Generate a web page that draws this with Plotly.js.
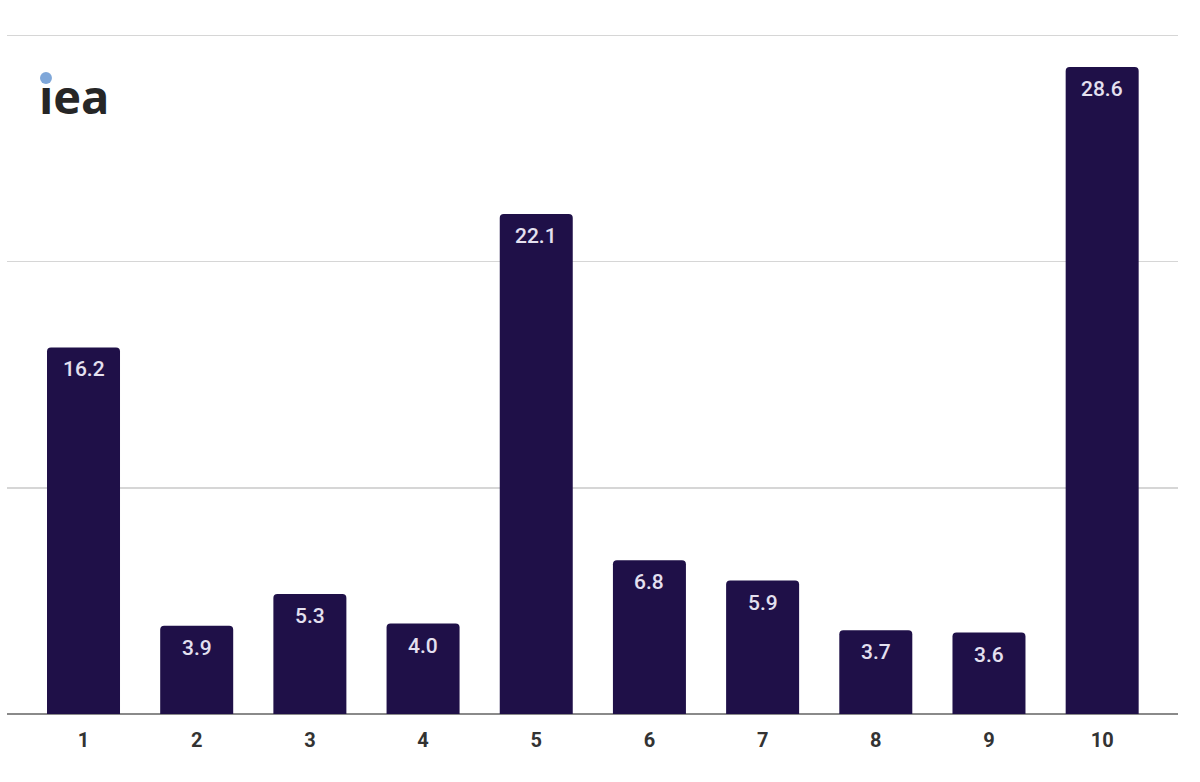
<!DOCTYPE html>
<html>
<head>
<meta charset="utf-8">
<script src="https://cdn.plot.ly/plotly-3.0.1.min.js"></script>
<style>html,body{margin:0;padding:0;background:#fff;}#chart{width:1200px;height:782px;}</style>
</head>
<body>
<div id="chart"></div>
<script>
const categories = [1, 2, 3, 4, 5, 6, 7, 8, 9, 10];
const values = [16.2, 3.9, 5.3, 4.0, 22.1, 6.8, 5.9, 3.7, 3.6, 28.6];
const tickLabels = ["1", "2", "3", "4", "5", "6", "7", "8", "9", "10"];

const trace = {
  type: "bar",
  x: categories,
  y: values,
  marker: {color: "#1f1048", cornerradius: 4, line: {width: 0}},
  hoverinfo: "none",
  width: 0.645
};

const valueLabels = categories.map((c, i) => ({
  xref: "x", yref: "y", x: c, y: values[i],
  xanchor: "center", yanchor: "middle", yshift: -22,
  text: values[i].toFixed(1), showarrow: false,
  font: {family: "Roboto, Arial, sans-serif", size: 21, color: "#e4e0f0", weight: 500}
}));

const layout = {
  width: 1200, height: 782,
  margin: {l: 7, r: 22, t: 33, b: 68},
  paper_bgcolor: "#ffffff", plot_bgcolor: "#ffffff",
  showlegend: false,
  xaxis: {
    range: [0.324, 10.67],
    tickvals: categories, ticktext: tickLabels,
    showgrid: false, zeroline: false,
    showline: false, ticks: "",
    ticklabelstandoff: 12,
    tickfont: {family: "Roboto, Arial, sans-serif", size: 20, color: "#333333", weight: "bold"},
    fixedrange: true
  },
  yaxis: {
    range: [0, 30.1], dtick: 10,
    showticklabels: false,
    showgrid: true, gridcolor: "#d6d6d6", gridwidth: 1.5,
    zeroline: true, zerolinecolor: "#8a8a8a", zerolinewidth: 2,
    showline: false, ticks: "",
    fixedrange: true
  },
  annotations: valueLabels.concat([{
    xref: "paper", yref: "paper", x: 0.0255, y: 0.908,
    xanchor: "left", yanchor: "middle",
    text: "ıea", showarrow: false,
    font: {family: "Open Sans, Arial, sans-serif", size: 47, color: "#262626", weight: "bold"}
  }]),
  shapes: [{
    type: "circle", xref: "paper", yref: "paper",
    x0: 0.0282, x1: 0.0384, y0: 0.9251, y1: 0.9427,
    fillcolor: "#7fa7d9", line: {width: 0}
  }]
};

Plotly.newPlot("chart", [trace], layout, {displayModeBar: false, staticPlot: true});
</script>
</body>
</html>
